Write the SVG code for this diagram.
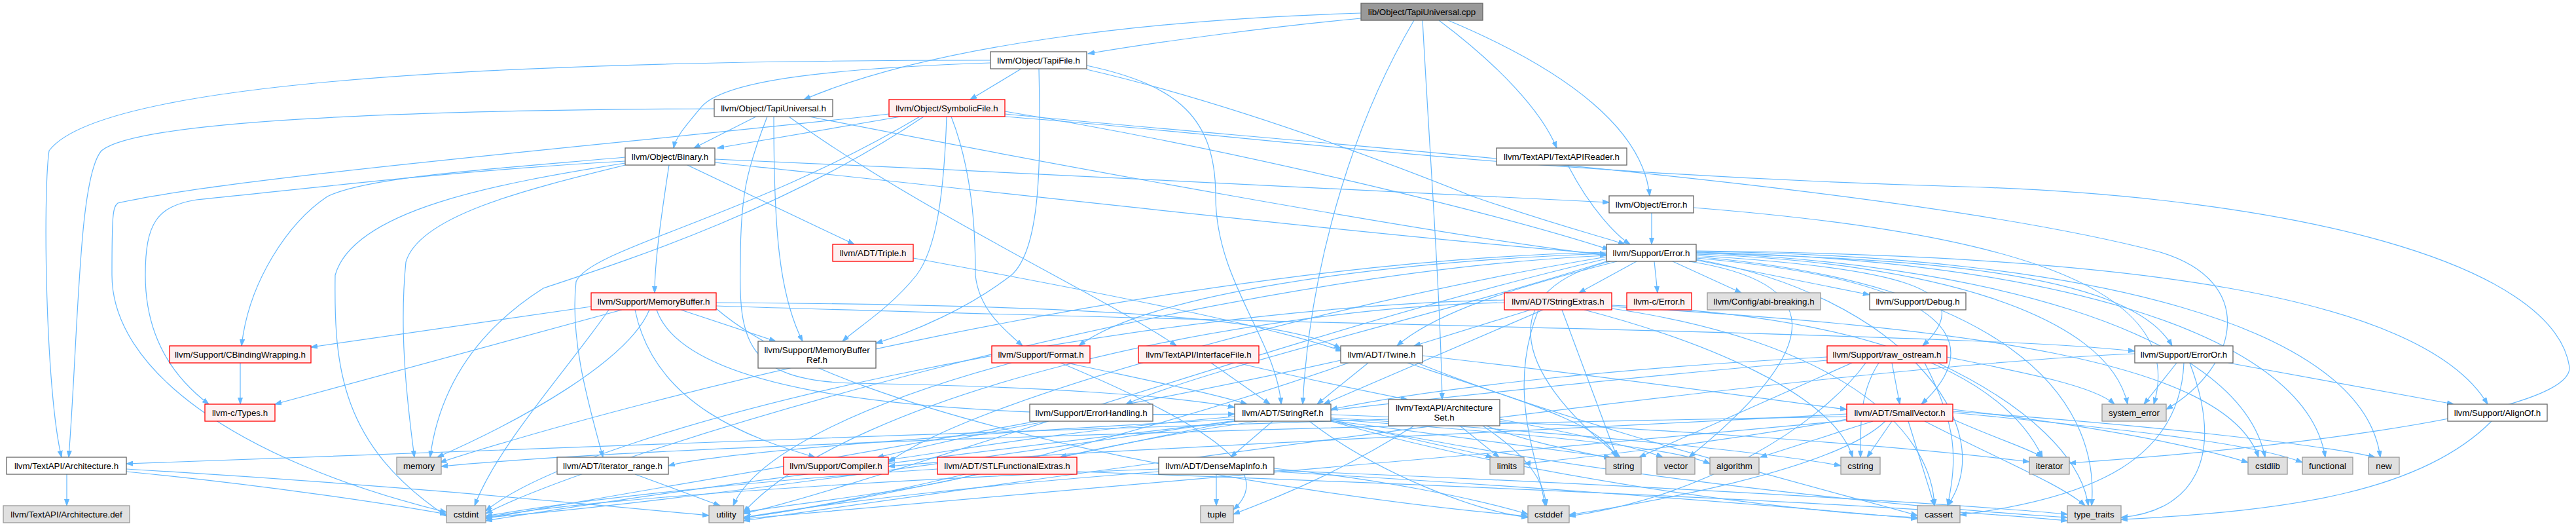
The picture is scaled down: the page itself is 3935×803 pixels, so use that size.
<svg xmlns="http://www.w3.org/2000/svg" width="3935" height="803" viewBox="0 0 3935 803">
<style>
.e{fill:none;stroke:#63b8ff;stroke-width:1.2;marker-end:url(#ah)}
text{font-family:"Liberation Sans",Arial,Helvetica,sans-serif;font-size:13.33px;fill:#000;text-anchor:middle}
.w rect{fill:#fff;stroke:#666;stroke-width:1.3}
.r rect{fill:#fff0f0;stroke:#f00;stroke-width:1.3}
.g rect{fill:#e0e0e0;stroke:#999;stroke-width:1.3}
.root rect{fill:#999;stroke:#666;stroke-width:1.3}
</style>
<defs>
<marker id="ah" markerWidth="11" markerHeight="8" refX="10" refY="4" orient="auto" markerUnits="userSpaceOnUse"><path d="M0,0.5 L10,4 L0,7.5 z" fill="#63b8ff" stroke="#63b8ff" stroke-width="1"/></marker>
</defs>
<rect width="3935" height="803" fill="#fff"/>
<g id="edges">
<path class="e" d="M2079,28 C1950,40 1780,62 1662,82"/>
<path class="e" d="M2079,20 C1750,30 1420,70 1228,152"/>
<path class="e" d="M2160,31 C2060,200 2000,420 1990,617"/>
<path class="e" d="M2173,31 C2185,250 2200,450 2203,610"/>
<path class="e" d="M2198,31 C2290,100 2355,170 2378,226"/>
<path class="e" d="M2212,31 C2400,110 2510,200 2520,299"/>
<path class="e" d="M1513,92 C700,92 150,130 75,230 C65,300 70,600 94,698"/>
<path class="e" d="M1513,96 C1250,105 1100,125 1070,165 C1045,195 1032,210 1029,226"/>
<path class="e" d="M1560,105 L1482,152"/>
<path class="e" d="M1587,105 C1590,250 1590,380 1545,420 C1480,470 1400,505 1338,524"/>
<path class="e" d="M1660,100 C1800,130 1857,180 1857,300 C1857,430 1950,520 1957,617"/>
<path class="e" d="M1660,106 C1850,150 2050,220 2250,300 C2380,345 2450,362 2482,373"/>
<path class="e" d="M1091,166 C600,168 210,185 155,230 C120,270 120,500 105,698"/>
<path class="e" d="M1155,178 L1060,226"/>
<path class="e" d="M1172,178 C1140,260 1131,300 1131,400 C1128,520 1140,580 1300,585 C1600,590 1800,605 1886,622"/>
<path class="e" d="M1182,178 C1182,350 1190,450 1226,521"/>
<path class="e" d="M1205,178 C1400,320 1700,460 1797,528"/>
<path class="e" d="M1236,178 C1600,250 2200,360 2454,390"/>
<path class="e" d="M1358,174 C1000,215 350,270 180,310 C172,316 171,330 171,420 C171,560 350,700 682,782"/>
<path class="e" d="M1376,178 L1096,226"/>
<path class="e" d="M1411,178 C1200,320 950,400 830,440 C720,510 670,600 657,698"/>
<path class="e" d="M1405,178 C1150,330 900,380 880,430 C870,520 900,620 921,698"/>
<path class="e" d="M1446,178 C1442,300 1430,380 1400,420 C1360,470 1310,500 1287,521"/>
<path class="e" d="M1453,178 C1485,260 1490,350 1490,420 C1495,470 1530,500 1562,528"/>
<path class="e" d="M1535,170 C1900,230 2300,330 2458,381"/>
<path class="e" d="M1535,178 C1900,205 2300,265 3000,285 C3500,300 3900,400 3925,560 C3932,640 3400,690 3161,707"/>
<path class="e" d="M1535,174 C2000,220 2900,280 3300,385 C3450,430 3420,560 3309,625"/>
<path class="e" d="M1050,252 L1305,373"/>
<path class="e" d="M1092,243 C1600,265 2200,295 2458,309"/>
<path class="e" d="M1092,248 C1500,290 2100,360 2454,388"/>
<path class="e" d="M1022,252 C1010,330 1000,400 1000,447"/>
<path class="e" d="M955,246 C700,260 450,290 300,305 C240,315 222,340 222,420 C222,520 270,580 319,617"/>
<path class="e" d="M955,240 C750,258 560,270 500,300 C440,340 380,430 369,528"/>
<path class="e" d="M955,252 C800,290 640,330 620,400 C610,500 620,600 633,698"/>
<path class="e" d="M955,249 C760,280 540,320 512,420 C510,560 520,680 682,788"/>
<path class="e" d="M903,468 L475,530"/>
<path class="e" d="M950,473 L420,617"/>
<path class="e" d="M992,473 C960,550 800,640 668,698"/>
<path class="e" d="M1040,473 L1185,521"/>
<path class="e" d="M1094,462 C1600,465 1950,480 2048,532"/>
<path class="e" d="M1094,467 C1800,490 2500,500 3000,520 C3150,526 3200,530 3261,536"/>
<path class="e" d="M1003,473 C1040,580 1300,640 1886,632"/>
<path class="e" d="M970,473 C1000,620 1150,670 1245,698"/>
<path class="e" d="M930,473 C870,560 760,680 725,772"/>
<path class="e" d="M1094,471 C1300,650 2000,760 2334,788"/>
<path class="e" d="M1395,394 C1700,450 1950,500 2050,536"/>
<path class="e" d="M2470,399 C2350,430 2200,470 2134,528"/>
<path class="e" d="M2500,399 L2412,447"/>
<path class="e" d="M2527,399 L2532,447"/>
<path class="e" d="M2555,399 L2660,447"/>
<path class="e" d="M2591,397 L2856,450"/>
<path class="e" d="M2591,390 C2900,410 3030,440 2937,528"/>
<path class="e" d="M2591,386 C2900,395 3250,410 3318,528"/>
<path class="e" d="M2591,383 C3250,390 3700,450 3800,617"/>
<path class="e" d="M2591,394 C3000,430 3030,530 2935,617"/>
<path class="e" d="M2591,388 C2950,400 3220,480 3250,617"/>
<path class="e" d="M2591,386 C3000,400 3420,500 3460,698"/>
<path class="e" d="M2591,385 C3100,395 3520,500 3552,698"/>
<path class="e" d="M2591,384 C3200,390 3610,500 3636,698"/>
<path class="e" d="M2591,392 C3050,430 3210,600 3195,772"/>
<path class="e" d="M2591,396 C2900,450 3060,650 2975,772"/>
<path class="e" d="M2460,399 C2290,440 2300,560 2475,698"/>
<path class="e" d="M2580,399 C2780,430 2800,520 2580,698"/>
<path class="e" d="M2454,385 C1800,400 1000,600 672,706"/>
<path class="e" d="M2454,390 C1800,420 900,700 742,784"/>
<path class="e" d="M2454,395 C2000,500 1300,750 1136,784"/>
<path class="e" d="M2454,392 C2100,450 1500,600 1357,706"/>
<path class="e" d="M2454,399 C2200,480 1850,560 1720,617"/>
<path class="e" d="M2454,387 C2100,400 1750,450 1648,528"/>
<path class="e" d="M2338,473 L2160,528"/>
<path class="e" d="M2357,473 L2022,617"/>
<path class="e" d="M2386,473 L2470,698"/>
<path class="e" d="M2420,473 C2600,520 2800,600 2830,698"/>
<path class="e" d="M2462,471 C2800,520 2950,650 2955,772"/>
<path class="e" d="M2462,466 C2800,480 3050,550 3120,698"/>
<path class="e" d="M2462,468 C3000,500 3400,550 3450,698"/>
<path class="e" d="M2298,462 C1900,470 1300,600 1136,782"/>
<path class="e" d="M2298,458 C1700,470 900,650 742,780"/>
<path class="e" d="M2350,473 C2300,600 2350,700 2360,772"/>
<path class="e" d="M2090,554 L2012,617"/>
<path class="e" d="M2173,543 C2500,580 2700,610 2821,625"/>
<path class="e" d="M2165,554 C2400,650 2800,750 2929,787"/>
<path class="e" d="M2150,554 C2350,620 2450,650 2468,698"/>
<path class="e" d="M2048,550 C1600,650 900,760 742,792"/>
<path class="e" d="M2060,554 C1700,680 1300,770 1136,790"/>
<path class="e" d="M2890,554 L2902,617"/>
<path class="e" d="M2791,545 C2500,560 2200,590 2033,625"/>
<path class="e" d="M2940,554 C2990,650 2990,700 2975,772"/>
<path class="e" d="M2850,554 C2780,650 2600,760 2397,788"/>
<path class="e" d="M2791,550 C2200,600 1200,720 742,795"/>
<path class="e" d="M2829,554 L2504,698"/>
<path class="e" d="M2974,545 C3100,570 3200,590 3230,617"/>
<path class="e" d="M2960,554 C3100,620 3180,700 3190,772"/>
<path class="e" d="M2870,554 C2840,600 2842,650 2842,698"/>
<path class="e" d="M3404,554 L3748,617"/>
<path class="e" d="M3325,554 L3275,617"/>
<path class="e" d="M3336,554 C3330,700 3200,760 2994,786"/>
<path class="e" d="M3345,554 C3400,700 3350,780 3240,790"/>
<path class="e" d="M3261,540 C2800,560 1800,700 1136,795"/>
<path class="e" d="M3806,643 C3700,750 3500,780 3240,793"/>
<path class="e" d="M2821,632 C2300,660 1600,690 1357,712"/>
<path class="e" d="M2861,643 L2689,698"/>
<path class="e" d="M2915,643 L2955,772"/>
<path class="e" d="M2880,643 C2800,720 2500,770 2397,786"/>
<path class="e" d="M2983,625 C3200,650 3350,680 3434,706"/>
<path class="e" d="M2890,643 L2852,698"/>
<path class="e" d="M2983,630 C3300,660 3450,680 3517,706"/>
<path class="e" d="M2983,640 C3050,670 3100,685 3120,698"/>
<path class="e" d="M2821,640 C2600,680 2400,700 2328,708"/>
<path class="e" d="M2821,636 C2000,650 1000,680 674,712"/>
<path class="e" d="M2983,628 C3300,650 3550,680 3628,698"/>
<path class="e" d="M2940,643 C3050,700 3150,740 3185,772"/>
<path class="e" d="M2821,642 C2200,700 1400,770 1136,792"/>
<path class="e" d="M1944,643 L1880,698"/>
<path class="e" d="M1920,643 C1800,660 1700,680 1619,698"/>
<path class="e" d="M1886,640 C1500,660 1100,690 1021,711"/>
<path class="e" d="M1886,636 C1600,660 1450,690 1357,702"/>
<path class="e" d="M2033,640 C2300,660 2550,680 2612,708"/>
<path class="e" d="M2033,643 C2300,720 2700,780 2929,790"/>
<path class="e" d="M2000,643 C2100,720 2250,780 2334,790"/>
<path class="e" d="M2033,638 C2400,660 2700,690 2812,711"/>
<path class="e" d="M2033,633 C2500,650 2900,680 3100,705"/>
<path class="e" d="M2033,641 C2150,670 2250,690 2280,698"/>
<path class="e" d="M2033,642 C2250,670 2400,690 2460,698"/>
<path class="e" d="M2033,643 C2500,740 3000,780 3158,790"/>
<path class="e" d="M1886,643 C1600,700 1300,770 1136,790"/>
<path class="e" d="M1886,642 C1500,700 1000,770 742,790"/>
<path class="e" d="M1858,724 L1858,772"/>
<path class="e" d="M1946,720 C2300,740 2700,770 2929,792"/>
<path class="e" d="M1946,715 C2100,730 2250,760 2334,785"/>
<path class="e" d="M1770,716 C1400,730 900,760 742,790"/>
<path class="e" d="M1946,718 C2500,740 3000,770 3158,785"/>
<path class="e" d="M1770,720 C1500,740 1250,770 1136,790"/>
<path class="e" d="M1432,716 C1200,730 900,760 742,788"/>
<path class="e" d="M1645,720 C2200,740 2900,770 3158,795"/>
<path class="e" d="M1490,724 C1400,750 1200,770 1136,782"/>
<path class="e" d="M970,724 L1100,772"/>
<path class="e" d="M1630,554 C1750,580 1850,600 1905,617"/>
<path class="e" d="M1620,554 C1850,650 1950,720 1884,778"/>
<path class="e" d="M1545,554 C1300,620 1150,700 1120,772"/>
<path class="e" d="M1600,643 C1450,670 1380,690 1340,698"/>
<path class="e" d="M1850,554 L1940,617"/>
<path class="e" d="M1890,554 C2000,580 2100,600 2150,610"/>
<path class="e" d="M2121,640 C1500,660 600,690 193,708"/>
<path class="e" d="M2230,650 L2290,698"/>
<path class="e" d="M2270,650 C2350,680 2420,690 2460,700"/>
<path class="e" d="M2291,640 C2450,670 2520,690 2540,698"/>
<path class="e" d="M2265,650 C2340,700 2360,740 2362,772"/>
<path class="e" d="M2160,650 C2050,720 1950,760 1884,785"/>
<path class="e" d="M102,724 L102,772"/>
<path class="e" d="M193,720 C400,740 600,770 682,785"/>
<path class="e" d="M193,716 C600,740 900,770 1083,787"/>
<path class="e" d="M367,554 L367,617"/>
<path class="e" d="M2395,252 C2430,320 2470,360 2490,373"/>
<path class="e" d="M2523,325 L2523,373"/>
<path class="e" d="M2587,317 C3000,350 3350,420 3290,617"/>
</g>
<g id="n-cpp" class="root"><rect x="2079" y="5" width="186" height="26"/><text x="2172" y="22.7">lib/Object/TapiUniversal.cpp</text></g>
<g id="n-tapifile" class="w"><rect x="1513" y="79" width="147" height="26"/><text x="1586.5" y="96.7">llvm/Object/TapiFile.h</text></g>
<g id="n-tapiuniversal" class="w"><rect x="1091" y="152" width="181" height="26"/><text x="1181.5" y="169.7">llvm/Object/TapiUniversal.h</text></g>
<g id="n-symbolicfile" class="r"><rect x="1358" y="152" width="177" height="26"/><text x="1446.5" y="169.7">llvm/Object/SymbolicFile.h</text></g>
<g id="n-binary" class="w"><rect x="955" y="226" width="137" height="26"/><text x="1023.5" y="243.7">llvm/Object/Binary.h</text></g>
<g id="n-textapireader" class="w"><rect x="2286" y="226" width="199" height="26"/><text x="2385.5" y="243.7">llvm/TextAPI/TextAPIReader.h</text></g>
<g id="n-objerror" class="w"><rect x="2458" y="299" width="129" height="26"/><text x="2522.5" y="316.7">llvm/Object/Error.h</text></g>
<g id="n-error" class="w"><rect x="2454" y="373" width="137" height="26"/><text x="2522.5" y="390.7">llvm/Support/Error.h</text></g>
<g id="n-triple" class="r"><rect x="1272" y="373" width="123" height="26"/><text x="1333.5" y="390.7">llvm/ADT/Triple.h</text></g>
<g id="n-memorybuffer" class="r"><rect x="903" y="447" width="191" height="26"/><text x="998.5" y="464.7">llvm/Support/MemoryBuffer.h</text></g>
<g id="n-stringextras" class="r"><rect x="2298" y="447" width="164" height="26"/><text x="2380" y="464.7">llvm/ADT/StringExtras.h</text></g>
<g id="n-cerror" class="r"><rect x="2485" y="447" width="99" height="26"/><text x="2534.5" y="464.7">llvm-c/Error.h</text></g>
<g id="n-abi" class="g"><rect x="2608" y="447" width="173" height="26"/><text x="2694.5" y="464.7">llvm/Config/abi-breaking.h</text></g>
<g id="n-debug" class="w"><rect x="2856" y="447" width="147" height="26"/><text x="2929.5" y="464.7">llvm/Support/Debug.h</text></g>
<g id="n-cbinding" class="r"><rect x="259" y="528" width="216" height="26"/><text x="367" y="545.7">llvm/Support/CBindingWrapping.h</text></g>
<g id="n-memorybufferref" class="w"><rect x="1158" y="521" width="180" height="41"/><text x="1248" y="539">llvm/Support/MemoryBuffer</text><text x="1248" y="554">Ref.h</text></g>
<g id="n-format" class="r"><rect x="1515" y="528" width="150" height="26"/><text x="1590" y="545.7">llvm/Support/Format.h</text></g>
<g id="n-interfacefile" class="r"><rect x="1739" y="528" width="184" height="26"/><text x="1831" y="545.7">llvm/TextAPI/InterfaceFile.h</text></g>
<g id="n-twine" class="w"><rect x="2048" y="528" width="125" height="26"/><text x="2110.5" y="545.7">llvm/ADT/Twine.h</text></g>
<g id="n-rawostream" class="r"><rect x="2791" y="528" width="183" height="26"/><text x="2882.5" y="545.7">llvm/Support/raw_ostream.h</text></g>
<g id="n-erroror" class="w"><rect x="3261" y="528" width="150" height="26"/><text x="3336" y="545.7">llvm/Support/ErrorOr.h</text></g>
<g id="n-ctypes" class="r"><rect x="313" y="617" width="107" height="26"/><text x="366.5" y="634.7">llvm-c/Types.h</text></g>
<g id="n-errorhandling" class="w"><rect x="1573" y="617" width="188" height="26"/><text x="1667" y="634.7">llvm/Support/ErrorHandling.h</text></g>
<g id="n-stringref" class="w"><rect x="1886" y="617" width="147" height="26"/><text x="1959.5" y="634.7">llvm/ADT/StringRef.h</text></g>
<g id="n-archset" class="w"><rect x="2121" y="610" width="170" height="40"/><text x="2206" y="627">llvm/TextAPI/Architecture</text><text x="2206" y="642">Set.h</text></g>
<g id="n-smallvector" class="r"><rect x="2821" y="617" width="162" height="26"/><text x="2902" y="634.7">llvm/ADT/SmallVector.h</text></g>
<g id="n-systemerror" class="g"><rect x="3211" y="617" width="98" height="26"/><text x="3260" y="634.7">system_error</text></g>
<g id="n-alignof" class="w"><rect x="3739" y="617" width="152" height="26"/><text x="3815" y="634.7">llvm/Support/AlignOf.h</text></g>
<g id="n-architecture" class="w"><rect x="10" y="698" width="183" height="26"/><text x="101.5" y="715.7">llvm/TextAPI/Architecture.h</text></g>
<g id="n-memory" class="g"><rect x="606" y="698" width="68" height="26"/><text x="640" y="715.7">memory</text></g>
<g id="n-iteratorrange" class="w"><rect x="851" y="698" width="170" height="26"/><text x="936" y="715.7">llvm/ADT/iterator_range.h</text></g>
<g id="n-compiler" class="r"><rect x="1197" y="698" width="160" height="26"/><text x="1277" y="715.7">llvm/Support/Compiler.h</text></g>
<g id="n-stlfunctional" class="r"><rect x="1432" y="698" width="213" height="26"/><text x="1538.5" y="715.7">llvm/ADT/STLFunctionalExtras.h</text></g>
<g id="n-densemapinfo" class="w"><rect x="1770" y="698" width="176" height="26"/><text x="1858" y="715.7">llvm/ADT/DenseMapInfo.h</text></g>
<g id="n-limits" class="g"><rect x="2276" y="698" width="52" height="26"/><text x="2302" y="715.7">limits</text></g>
<g id="n-string" class="g"><rect x="2453" y="698" width="54" height="26"/><text x="2480" y="715.7">string</text></g>
<g id="n-vector" class="g"><rect x="2531" y="698" width="58" height="26"/><text x="2560" y="715.7">vector</text></g>
<g id="n-algorithm" class="g"><rect x="2612" y="698" width="75" height="26"/><text x="2649.5" y="715.7">algorithm</text></g>
<g id="n-cstring" class="g"><rect x="2812" y="698" width="60" height="26"/><text x="2842" y="715.7">cstring</text></g>
<g id="n-iterator" class="g"><rect x="3100" y="698" width="61" height="26"/><text x="3130.5" y="715.7">iterator</text></g>
<g id="n-cstdlib" class="g"><rect x="3434" y="698" width="60" height="26"/><text x="3464" y="715.7">cstdlib</text></g>
<g id="n-functional" class="g"><rect x="3517" y="698" width="77" height="26"/><text x="3555.5" y="715.7">functional</text></g>
<g id="n-new" class="g"><rect x="3618" y="698" width="47" height="26"/><text x="3641.5" y="715.7">new</text></g>
<g id="n-archdef" class="g"><rect x="5" y="772" width="193" height="26"/><text x="101.5" y="789.7">llvm/TextAPI/Architecture.def</text></g>
<g id="n-cstdint" class="g"><rect x="682" y="772" width="60" height="26"/><text x="712" y="789.7">cstdint</text></g>
<g id="n-utility" class="g"><rect x="1083" y="772" width="53" height="26"/><text x="1109.5" y="789.7">utility</text></g>
<g id="n-tuple" class="g"><rect x="1834" y="772" width="50" height="26"/><text x="1859" y="789.7">tuple</text></g>
<g id="n-cstddef" class="g"><rect x="2334" y="772" width="63" height="26"/><text x="2365.5" y="789.7">cstddef</text></g>
<g id="n-cassert" class="g"><rect x="2929" y="772" width="65" height="26"/><text x="2961.5" y="789.7">cassert</text></g>
<g id="n-typetraits" class="g"><rect x="3158" y="772" width="82" height="26"/><text x="3199" y="789.7">type_traits</text></g>
</svg>
